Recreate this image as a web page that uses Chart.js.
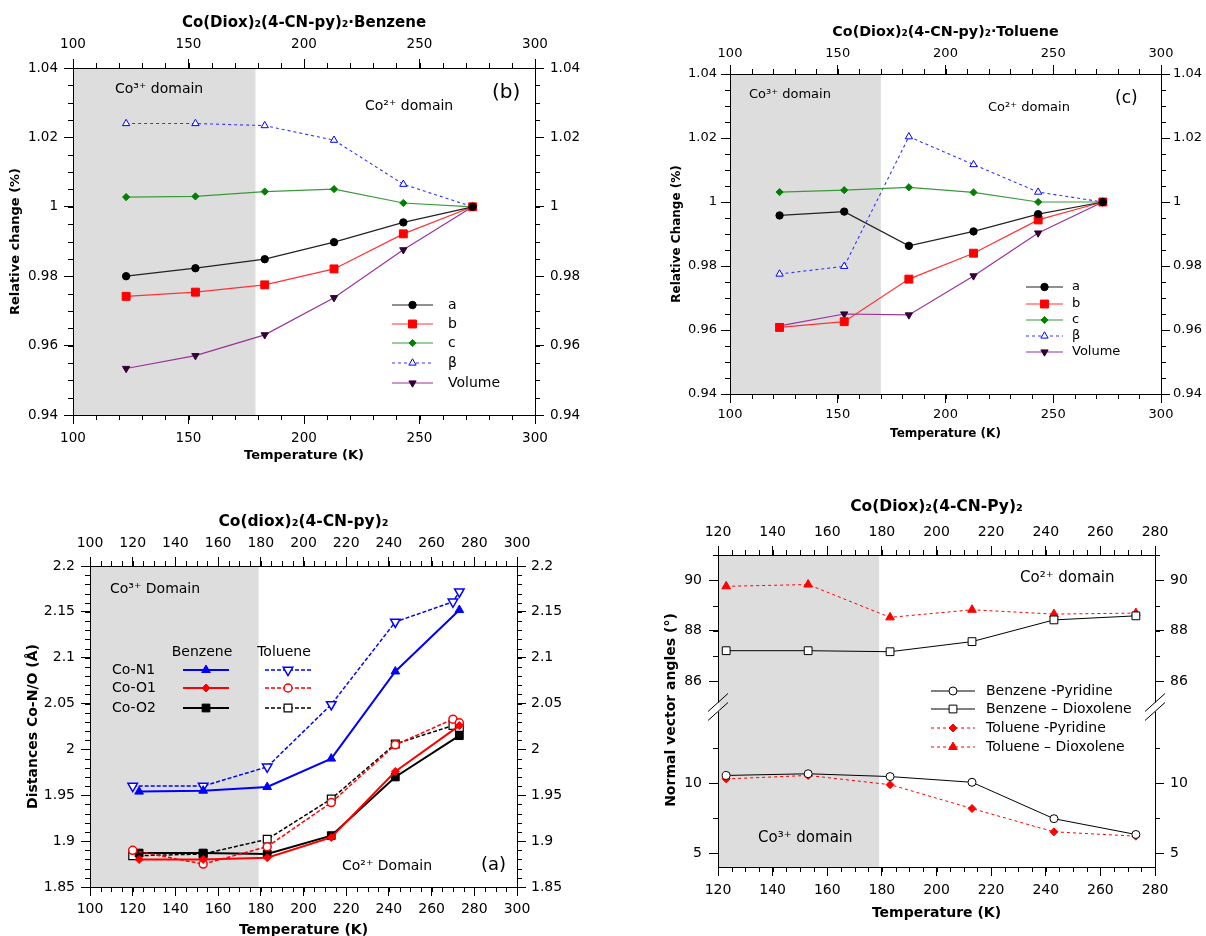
<!DOCTYPE html>
<html>
<head>
<meta charset="utf-8">
<script src="https://cdn.jsdelivr.net/npm/chart.js@4.4.1/dist/chart.umd.min.js"></script>
<style>
  html, body { margin: 0; padding: 0; background: #fff; overflow: hidden; }
  body { width: 1206px; height: 936px; position: relative; }
  canvas { position: absolute; }
</style>
</head>
<body>
<canvas id="chartB" width="600" height="470" style="left:0;top:0"></canvas>
<canvas id="chartC" width="606" height="460" style="left:600px;top:0"></canvas>
<canvas id="chartA" width="600" height="470" style="left:0;top:480px"></canvas>
<canvas id="chartD" width="606" height="456" style="left:600px;top:480px"></canvas>
<script>
// temperatures (K)
const temps = [123, 153, 183, 213, 243, 273];
const tolTemps = [120, 153, 183, 213, 243, 270, 273];

// (b) benzene solvate - relative change of cell parameters
const benzA = [0.9800, 0.9823, 0.9849, 0.9898, 0.9955, 1.0000];
const benzB = [0.9742, 0.9754, 0.9775, 0.9821, 0.9922, 1.0000];
const benzC = [1.0028, 1.0030, 1.0044, 1.0051, 1.0011, 1.0000];
const benzBeta = [1.0240, 1.0240, 1.0234, 1.0192, 1.0065, 1.0000];
const benzVol = [0.9534, 0.9571, 0.9631, 0.9738, 0.9876, 1.0000];

// (c) toluene solvate - relative change of cell parameters
const tolA = [0.9958, 0.9970, 0.9863, 0.9908, 0.9962, 1.0000];
const tolB = [0.9608, 0.9626, 0.9759, 0.9840, 0.9944, 1.0000];
const tolC = [1.0031, 1.0037, 1.0046, 1.0030, 1.0000, 1.0000];
const tolBeta = [0.9775, 0.9799, 1.0204, 1.0117, 1.0031, 1.0000];
const tolVol = [0.9613, 0.9650, 0.9647, 0.9769, 0.9903, 1.0000];

// (a) Co-N/O distances (Å)
const benzN1 = [1.954, 1.955, 1.959, 1.990, 2.085, 2.152];
const benzO1 = [1.880, 1.880, 1.882, 1.904, 1.976, 2.026];
const benzO2 = [1.887, 1.887, 1.886, 1.906, 1.970, 2.015];
const tolN1 = [1.960, 1.960, 1.981, 2.049, 2.139, 2.161, 2.172];
const tolO1 = [1.890, 1.875, 1.894, 1.942, 2.005, 2.033, 2.029];
const tolO2 = [1.884, 1.886, 1.902, 1.946, 2.006, 2.026, 2.024];

// (d) normal vector angles (deg)
const bzPyr = [10.56, 10.68, 10.48, 10.07, 7.46, 6.33];
const bzDiox = [87.21, 87.21, 87.17, 87.57, 88.43, 88.59];
const tlPyr = [10.31, 10.56, 9.90, 8.19, 6.52, 6.21];
const tlDiox = [89.76, 89.83, 88.53, 88.83, 88.66, 88.70];

// tick labels
const tTicks50 = [100, 150, 200, 250, 300];
const tTicks20 = [100, 120, 140, 160, 180, 200, 220, 240, 260, 280, 300];
const tTicksD = [120, 140, 160, 180, 200, 220, 240, 260, 280];
const relTicks = [0.94, 0.96, 0.98, 1, 1.02, 1.04];
const distTicks = [1.85, 1.9, 1.95, 2, 2.05, 2.1, 2.15, 2.2];
const angTicksHi = [86, 88, 90];
const angTicksLo = [5, 10];

const FONT = "'DejaVu Sans', sans-serif";

function makeAxis(o) {
  const horiz = o.position === 'top' || o.position === 'bottom';
  return {
    type: 'linear',
    position: o.position,
    min: o.min, max: o.max,
    stack: o.stack, stackWeight: o.stackWeight,
    grid: { drawOnChartArea: false, drawTicks: true, tickLength: 9, tickColor: '#000', tickWidth: 1 },
    border: { display: true, color: '#000', width: 1 },
    ticks: {
      color: '#000', font: { family: FONT, size: o.fontSize }, padding: o.pad,
      autoSkip: false, maxRotation: 0, callback: v => String(v)
    },
    title: o.title
      ? { display: true, text: o.title, color: '#000', font: { family: FONT, size: o.titleSize, weight: 'bold' }, padding: o.titlePad }
      : { display: false },
    afterBuildTicks: s => { s.ticks = o.ticks.map(v => ({ value: v })); },
    afterFit: s => { if (horiz) s.height = o.size; else s.width = o.size; }
  };
}

function series(xs, ys, st, yAxisID) {
  return {
    data: xs.map((x, i) => ({ x: x, y: ys[i] })),
    xAxisID: 'x', yAxisID: yAxisID || 'y',
    borderColor: st.line, borderWidth: st.width, borderDash: st.dash || [],
    pointStyle: st.shape, pointRadius: st.r, pointRotation: st.rot || 0,
    pointBackgroundColor: st.fill, pointBorderColor: st.stroke, pointBorderWidth: st.bw || 1,
    tension: 0, fill: false, clip: false
  };
}

function drawSample(ctx, ds, x0, x1, y) {
  ctx.save();
  ctx.strokeStyle = ds.borderColor;
  ctx.lineWidth = ds.borderWidth;
  ctx.setLineDash(ds.borderDash || []);
  ctx.beginPath();
  ctx.moveTo(x0, y);
  ctx.lineTo(x1, y);
  ctx.stroke();
  ctx.setLineDash([]);
  ctx.fillStyle = ds.pointBackgroundColor;
  ctx.strokeStyle = ds.pointBorderColor;
  ctx.lineWidth = ds.pointBorderWidth;
  Chart.helpers.drawPoint(ctx, {
    pointStyle: ds.pointStyle, radius: ds.pointRadius,
    rotation: ds.pointRotation || 0, borderWidth: ds.pointBorderWidth
  }, (x0 + x1) / 2, y);
  ctx.restore();
}

// shading, minor ticks, notes and legend
const decor = cfg => ({
  id: 'decor',
  beforeDraw(chart) {
    const { ctx, chartArea: a } = chart;
    const xr = chart.scales.x.getPixelForValue(cfg.shadeTo);
    ctx.save();
    ctx.fillStyle = '#dddddd';
    ctx.fillRect(a.left, a.top, xr - a.left, a.bottom - a.top);
    ctx.restore();
  },
  afterDraw(chart) {
    const { ctx, chartArea: a } = chart;
    ctx.save();
    ctx.strokeStyle = '#000';
    ctx.lineWidth = 1;
    cfg.minor.forEach(m => {
      const s = chart.scales[m.id];
      const lo = m.from !== undefined ? m.from : s.min;
      const hi = m.to !== undefined ? m.to : s.max;
      const n0 = Math.ceil(lo / m.step - 1e-6), n1 = Math.floor(hi / m.step + 1e-6);
      const pos = s.options.position;
      ctx.beginPath();
      for (let n = n0; n <= n1; n++) {
        const p = Math.round(s.getPixelForValue(n * m.step)) + 0.5;
        if (pos === 'left') { ctx.moveTo(a.left - 5, p); ctx.lineTo(a.left, p); }
        else if (pos === 'right') { ctx.moveTo(a.right, p); ctx.lineTo(a.right + 5, p); }
        else if (pos === 'top') { ctx.moveTo(p, a.top - 5); ctx.lineTo(p, a.top); }
        else { ctx.moveTo(p, a.bottom); ctx.lineTo(p, a.bottom + 5); }
      }
      ctx.stroke();
    });
    ctx.restore();

    cfg.texts.forEach(t => {
      ctx.save();
      ctx.font = (t.bold ? 'bold ' : '') + t.size + 'px ' + FONT;
      ctx.fillStyle = '#000';
      ctx.textAlign = t.align || 'left';
      ctx.textBaseline = 'middle';
      ctx.translate(a.left + t.dx, a.top + t.dy);
      if (t.rot) ctx.rotate(t.rot);
      ctx.fillText(t.t, 0, 0);
      ctx.restore();
    });
    cfg.samples.forEach(sm => drawSample(ctx, chart.data.datasets[sm.ds], a.left + sm.x0, a.left + sm.x1, a.top + sm.dy));
    if (cfg.extra) cfg.extra(chart);
  }
});

const baseOptions = scales => ({
  responsive: false,
  animation: false,
  events: [],
  layout: { padding: 0 },
  plugins: { legend: { display: false }, tooltip: { enabled: false } },
  scales: scales
});

// styles
const stA = { line: '#222', width: 1.2, shape: 'circle', r: 3.7, fill: '#000', stroke: '#000' };
const stB = { line: '#ff3333', width: 1.2, shape: 'rect', r: 5.6, fill: '#ff0000', stroke: '#ff0000' };
const stC = { line: '#3a9a3a', width: 1.2, shape: 'rectRot', r: 3.6, fill: '#008000', stroke: '#008000' };
const stBeta = { line: '#3333ff', width: 1.1, dash: [3, 3], shape: 'triangle', r: 4.2, fill: '#fff', stroke: '#0000ff' };
const stVol = { line: '#993399', width: 1.2, shape: 'triangle', rot: 180, r: 4.2, fill: '#330033', stroke: '#330033' };

const cellSamples = (x0, x1, rows) => rows.map((dy, i) => ({ ds: i, x0: x0, x1: x1, dy: dy }));
const cellTexts = (tx, rows, size) => ['a', 'b', 'c', 'β', 'Volume'].map((t, i) => ({ t: t, dx: tx, dy: rows[i], size: size }));

// ---- (b) benzene ----
const rowsB = [237, 256, 275, 295, 315];
new Chart(document.getElementById('chartB'), {
  type: 'line',
  data: { datasets: [
    series(temps, benzA, stA), series(temps, benzB, stB), series(temps, benzC, stC),
    series(temps, benzBeta, stBeta), series(temps, benzVol, stVol)
  ] },
  options: baseOptions({
    x: makeAxis({ position: 'bottom', min: 100, max: 300, ticks: tTicks50, size: 55, fontSize: 13.5, pad: 6,
      title: 'Temperature (K)', titleSize: 13, titlePad: { top: 0, bottom: 7 } }),
    x2: makeAxis({ position: 'top', min: 100, max: 300, ticks: tTicks50, size: 68, fontSize: 13.5, pad: 6,
      title: 'Co(Diox)₂(4-CN-py)₂·Benzene', titleSize: 15, titlePad: { top: 14, bottom: 0 } }),
    y: makeAxis({ position: 'left', min: 0.94, max: 1.04, ticks: relTicks, size: 73, fontSize: 13.5, pad: 6,
      title: 'Relative change (%)', titleSize: 13, titlePad: { top: 7.6, bottom: 0 } }),
    y2: makeAxis({ position: 'right', min: 0.94, max: 1.04, ticks: relTicks, size: 65, fontSize: 13.5, pad: 6 })
  }),
  plugins: [decor({
    shadeTo: 179,
    minor: [{ id: 'x', step: 10 }, { id: 'x2', step: 10 }, { id: 'y', step: 0.005 }, { id: 'y2', step: 0.005 }],
    texts: [
      { t: 'Co³⁺ domain', dx: 42, dy: 21, size: 14 },
      { t: 'Co²⁺ domain', dx: 292, dy: 38, size: 14 },
      { t: '(b)', dx: 419, dy: 25, size: 20 }
    ].concat(cellTexts(375, rowsB, 14)),
    samples: cellSamples(319, 360, rowsB)
  })]
});

// ---- (c) toluene ----
const rowsC = [213, 230, 246, 262, 278];
new Chart(document.getElementById('chartC'), {
  type: 'line',
  data: { datasets: [
    series(temps, tolA, stA), series(temps, tolB, stB), series(temps, tolC, stC),
    series(temps, tolBeta, stBeta), series(temps, tolVol, stVol)
  ] },
  options: baseOptions({
    x: makeAxis({ position: 'bottom', min: 100, max: 300, ticks: tTicks50, size: 66, fontSize: 13, pad: 4,
      title: 'Temperature (K)', titleSize: 12, titlePad: { top: 0, bottom: 19 } }),
    x2: makeAxis({ position: 'top', min: 100, max: 300, ticks: tTicks50, size: 74, fontSize: 13, pad: 4,
      title: 'Co(Diox)₂(4-CN-py)₂·Toluene', titleSize: 14.3, titlePad: { top: 23.4, bottom: 0 } }),
    y: makeAxis({ position: 'left', min: 0.94, max: 1.04, ticks: relTicks, size: 130, fontSize: 13, pad: 4,
      title: 'Relative Change (%)', titleSize: 12, titlePad: { top: 69.5, bottom: 0 } }),
    y2: makeAxis({ position: 'right', min: 0.94, max: 1.04, ticks: relTicks, size: 45, fontSize: 13, pad: 3 })
  }),
  plugins: [decor({
    shadeTo: 170,
    minor: [{ id: 'x', step: 10 }, { id: 'x2', step: 10 }, { id: 'y', step: 0.005 }, { id: 'y2', step: 0.005 }],
    texts: [
      { t: 'Co³⁺ domain', dx: 19, dy: 21, size: 13 },
      { t: 'Co²⁺ domain', dx: 258, dy: 34, size: 13 },
      { t: '(c)', dx: 385, dy: 25, size: 17 }
    ].concat(cellTexts(342, rowsC, 13)),
    samples: cellSamples(296, 333, rowsC)
  })]
});

// ---- (a) distances ----
const stN1b = { line: '#0000ff', width: 2, shape: 'triangle', r: 5, fill: '#0000ff', stroke: '#0000ff' };
const stN1t = { line: '#0000ff', width: 1.5, dash: [4, 2], shape: 'triangle', rot: 180, r: 5.5, fill: '#fff', stroke: '#0000ff', bw: 1.5 };
const stO1b = { line: '#ff0000', width: 2, shape: 'rectRot', r: 4, fill: '#ff0000', stroke: '#ff0000' };
const stO1t = { line: '#ff0000', width: 1.5, dash: [4, 2], shape: 'circle', r: 4, fill: '#fff', stroke: '#ff0000', bw: 1.5 };
const stO2b = { line: '#000', width: 2, shape: 'rect', r: 5.5, fill: '#000', stroke: '#000' };
const stO2t = { line: '#000', width: 1.5, dash: [4, 2], shape: 'rect', r: 5.5, fill: '#fff', stroke: '#000', bw: 1.2 };

const rowsA = [104, 122, 142];
new Chart(document.getElementById('chartA'), {
  type: 'line',
  data: { datasets: [
    series(temps, benzN1, stN1b), series(tolTemps, tolN1, stN1t),
    series(temps, benzO1, stO1b), series(tolTemps, tolO1, stO1t),
    series(temps, benzO2, stO2b), series(tolTemps, tolO2, stO2t)
  ] },
  options: baseOptions({
    x: makeAxis({ position: 'bottom', min: 100, max: 300, ticks: tTicks20, size: 63, fontSize: 14, pad: 5,
      title: 'Temperature (K)', titleSize: 14, titlePad: { top: 0, bottom: 11.6 } }),
    x2: makeAxis({ position: 'top', min: 100, max: 300, ticks: tTicks20, size: 86, fontSize: 14, pad: 5,
      title: 'Co(diox)₂(4-CN-py)₂', titleSize: 15.5, titlePad: { top: 32.7, bottom: 0 } }),
    y: makeAxis({ position: 'left', min: 1.85, max: 2.2, ticks: distTicks, size: 90, fontSize: 14, pad: 6,
      title: 'Distances Co-N/O (Å)', titleSize: 14, titlePad: { top: 24.6, bottom: 0 } }),
    y2: makeAxis({ position: 'right', min: 1.85, max: 2.2, ticks: distTicks, size: 83, fontSize: 14, pad: 5 })
  }),
  plugins: [decor({
    shadeTo: 179,
    minor: [{ id: 'x', step: 5 }, { id: 'x2', step: 5 }, { id: 'y', step: 0.01 }, { id: 'y2', step: 0.01 }],
    texts: [
      { t: 'Co³⁺ Domain', dx: 20, dy: 23, size: 14 },
      { t: 'Co²⁺ Domain', dx: 252, dy: 300, size: 14 },
      { t: '(a)', dx: 391, dy: 299, size: 18 },
      { t: 'Benzene', dx: 112, dy: 86, size: 14, align: 'center' },
      { t: 'Toluene', dx: 194, dy: 86, size: 14, align: 'center' },
      { t: 'Co-N1', dx: 22, dy: rowsA[0], size: 14 },
      { t: 'Co-O1', dx: 22, dy: rowsA[1], size: 14 },
      { t: 'Co-O2', dx: 22, dy: rowsA[2], size: 14 }
    ],
    samples: [
      { ds: 0, x0: 93, x1: 139, dy: rowsA[0] }, { ds: 1, x0: 175, x1: 221, dy: rowsA[0] },
      { ds: 2, x0: 93, x1: 139, dy: rowsA[1] }, { ds: 3, x0: 175, x1: 221, dy: rowsA[1] },
      { ds: 4, x0: 93, x1: 139, dy: rowsA[2] }, { ds: 5, x0: 175, x1: 221, dy: rowsA[2] }
    ]
  })]
});

// ---- (d) normal vector angles, broken axis ----
const stBP = { line: '#000', width: 1, shape: 'circle', r: 4, fill: '#fff', stroke: '#000' };
const stBD = { line: '#000', width: 1, shape: 'rect', r: 5.5, fill: '#fff', stroke: '#000' };
const stTP = { line: '#ff0000', width: 1, dash: [3, 3], shape: 'rectRot', r: 4, fill: '#ff0000', stroke: '#ff0000' };
const stTD = { line: '#ff0000', width: 1, dash: [3, 3], shape: 'triangle', r: 5, fill: '#ff0000', stroke: '#ff0000' };

function drawBreak(ctx, x, y) {
  ctx.save();
  ctx.fillStyle = '#fff';
  ctx.fillRect(x - 1.5, y - 4, 3, 9);
  ctx.strokeStyle = '#000';
  ctx.lineWidth = 1;
  ctx.beginPath();
  ctx.moveTo(x - 10, y + 5); ctx.lineTo(x + 10, y - 13);
  ctx.moveTo(x - 10, y + 14); ctx.lineTo(x + 10, y - 4);
  ctx.stroke();
  ctx.restore();
}

const rowsD = [136, 154, 173, 192];
new Chart(document.getElementById('chartD'), {
  type: 'line',
  data: { datasets: [
    series(temps, bzPyr, stBP, 'yBot'), series(temps, bzDiox, stBD, 'yTop'),
    series(temps, tlPyr, stTP, 'yBot'), series(temps, tlDiox, stTD, 'yTop')
  ] },
  options: baseOptions({
    x: makeAxis({ position: 'bottom', min: 120, max: 280, ticks: tTicksD, size: 69, fontSize: 14, pad: 5.5,
      title: 'Temperature (K)', titleSize: 14, titlePad: { top: 0, bottom: 14.6 } }),
    x2: makeAxis({ position: 'top', min: 120, max: 280, ticks: tTicksD, size: 75, fontSize: 14, pad: 5.5,
      title: 'Co(Diox)₂(4-CN-Py)₂', titleSize: 15.5, titlePad: { top: 17.7, bottom: 0 } }),
    yBot: makeAxis({ position: 'left', stack: 'L', stackWeight: 482, min: 4, max: 15.5, ticks: angTicksLo, size: 118, fontSize: 14, pad: 7 }),
    yTop: makeAxis({ position: 'left', stack: 'L', stackWeight: 455, min: 85, max: 91, ticks: angTicksHi, size: 118, fontSize: 14, pad: 7 }),
    yTopR: makeAxis({ position: 'right', stack: 'R', stackWeight: 455, min: 85, max: 91, ticks: angTicksHi, size: 51, fontSize: 14, pad: 6 }),
    yBotR: makeAxis({ position: 'right', stack: 'R', stackWeight: 482, min: 4, max: 15.5, ticks: angTicksLo, size: 51, fontSize: 14, pad: 6 })
  }),
  plugins: [decor({
    shadeTo: 179,
    minor: [
      { id: 'x', step: 5 }, { id: 'x2', step: 5 },
      { id: 'yTop', step: 1, from: 86, to: 91 }, { id: 'yTopR', step: 1, from: 86, to: 91 },
      { id: 'yBot', step: 2.5, from: 5, to: 12.5 }, { id: 'yBotR', step: 2.5, from: 5, to: 12.5 }
    ],
    texts: [
      { t: 'Co²⁺ domain', dx: 302, dy: 23, size: 15 },
      { t: 'Co³⁺ domain', dx: 40, dy: 283, size: 15 },
      { t: 'Normal vector angles (°)', dx: -47, dy: 155, size: 14, bold: true, align: 'center', rot: -Math.PI / 2 },
      { t: 'Benzene -Pyridine', dx: 268, dy: rowsD[0], size: 14 },
      { t: 'Benzene – Dioxolene', dx: 268, dy: rowsD[1], size: 14 },
      { t: 'Toluene -Pyridine', dx: 268, dy: rowsD[2], size: 14 },
      { t: 'Toluene – Dioxolene', dx: 268, dy: rowsD[3], size: 14 }
    ],
    samples: rowsD.map((dy, i) => ({ ds: i, x0: 213, x1: 257, dy: dy })),
    extra: chart => {
      const y = chart.scales.yTop.bottom;
      drawBreak(chart.ctx, chart.chartArea.left, y);
      drawBreak(chart.ctx, chart.chartArea.right, y);
    }
  })]
});
</script>
</body>
</html>
